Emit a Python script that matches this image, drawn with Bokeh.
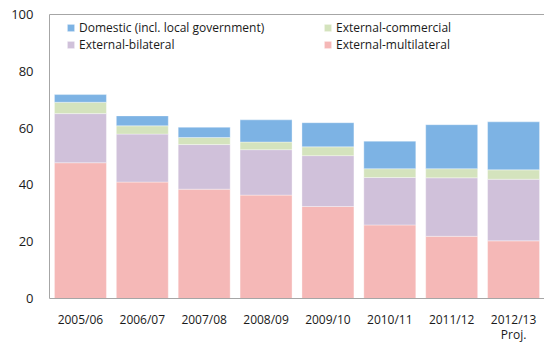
from bokeh.plotting import figure
from bokeh.models import ColumnDataSource, FactorRange, Legend, LegendItem, LinearAxis, FixedTicker, Range1d
from bokeh.embed import file_html
from bokeh.resources import INLINE

years = ["2005/06", "2006/07", "2007/08", "2008/09", "2009/10", "2010/11", "2011/12", "2012/13\nProj."]
multilateral = [47.8, 41.0, 38.5, 36.4, 32.4, 25.9, 21.9, 20.3]
bilateral = [17.3, 16.9, 15.7, 16.0, 17.9, 16.7, 20.6, 21.7]
commercial = [4.0, 2.9, 2.5, 2.7, 3.1, 3.1, 3.2, 3.3]
domestic = [2.7, 3.5, 3.6, 7.8, 8.5, 9.7, 15.5, 16.9]

series = ["multilateral", "bilateral", "commercial", "domestic"]
colors = ["#F5B8B7", "#D0C1DA", "#D4E3BD", "#7DB3E4"]
labels = {
    "domestic": "Domestic (incl. local government)",
    "bilateral": "External-bilateral",
    "commercial": "External-commercial",
    "multilateral": "External-multilateral",
}

src = ColumnDataSource(dict(years=years, multilateral=multilateral, bilateral=bilateral,
                            commercial=commercial, domestic=domestic))

FONT = "Open Sans"
TEXT = "#1a1a1a"
AXIS = "#A6A6A6"

p = figure(x_range=FactorRange(*years), y_range=Range1d(0, 100),
           width=544, height=345, output_backend="svg", toolbar_location=None,
           min_border_left=49, min_border_right=0, min_border_top=14, min_border_bottom=46)
p.outline_line_color = None
p.grid.visible = False
p.background_fill_color = "white"

rs = p.vbar_stack(series, x="years", width=0.84, source=src, color=colors,
                  line_color="white", line_alpha=0.35, line_width=1)
rmap = dict(zip(series, rs))

# axes
p.yaxis.ticker = FixedTicker(ticks=[0, 20, 40, 60, 80, 100])
for ax in (p.xaxis[0], p.yaxis[0]):
    ax.axis_line_color = AXIS
    ax.axis_line_width = 1
    ax.major_tick_line_color = None
    ax.minor_tick_line_color = None
    ax.major_tick_out = 0
    ax.major_tick_in = 0
    ax.minor_tick_out = 0
    ax.major_label_text_font = FONT
    ax.major_label_text_color = TEXT
p.yaxis.major_label_text_font_size = "13px"
p.yaxis.major_label_standoff = 16
p.xaxis.major_label_text_font_size = "12px"
p.xaxis.major_label_standoff = 12
p.xaxis.major_label_text_line_height = 0.9

top = LinearAxis(axis_line_color=AXIS, major_tick_line_color=None, minor_tick_line_color=None,
                 major_tick_out=0, major_tick_in=0, minor_tick_out=0,
                 major_label_text_font_size="0px", major_label_standoff=0,
                 ticker=FixedTicker(ticks=[]))
p.add_layout(top, "above")

def make_legend(keys, loc):
    lg = Legend(items=[LegendItem(label=labels[k], renderers=[rmap[k]]) for k in keys],
                location=loc, orientation="vertical",
                border_line_color=None, background_fill_alpha=0,
                padding=0, margin=0, spacing=0,
                glyph_width=9, glyph_height=9, label_standoff=4,
                label_height=16, label_text_font=FONT, label_text_font_size="12px",
                label_text_color=TEXT)
    p.add_layout(lg, "center")

make_legend(["domestic", "bilateral"], (17, 245))
make_legend(["commercial", "multilateral"], (274, 245))

open("out.html", "w").write(file_html(p, INLINE))
